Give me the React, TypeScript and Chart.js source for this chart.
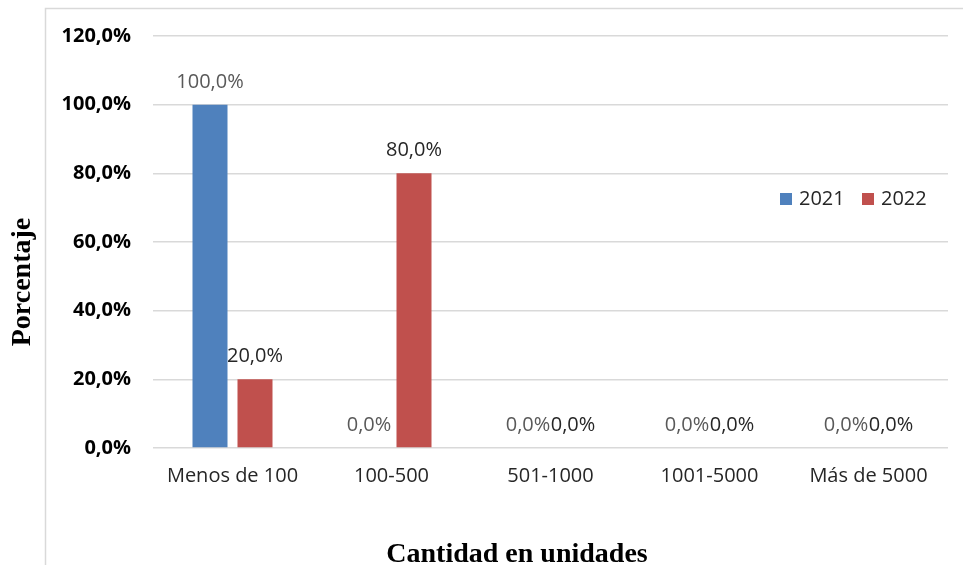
import React, { useEffect, useRef } from "react";
import { Chart, registerables } from "chart.js";

Chart.register(...registerables);

const categories = ["Menos de 100", "100-500", "501-1000", "1001-5000", "Más de 5000"];
const series2021 = [100, 0, 0, 0, 0];
const series2022 = [20, 80, 0, 0, 0];
const seriesNames = ["2021", "2022"];
const seriesColors = ["#4F81BD", "#C0504D"];
const labelColors = ["#595959", "#262626"];
const yTicks = [0, 20, 40, 60, 80, 100, 120];
const xTitle = "Cantidad en unidades";
const yTitle = "Porcentaje";

const fmt = (v: number) => v.toFixed(1).replace(".", ",") + "%";

const W = 963;
const H = 565;

const decorPlugin = {
  id: "decor",
  beforeDraw(chart: any) {
    const ctx = chart.ctx;
    ctx.save();
    ctx.fillStyle = "#ffffff";
    ctx.fillRect(0, 0, W, H);
    ctx.strokeStyle = "#d9d9d9";
    ctx.lineWidth = 1.5;
    ctx.beginPath();
    ctx.moveTo(45.5, H);
    ctx.lineTo(45.5, 8.5);
    ctx.lineTo(W, 8.5);
    ctx.stroke();
    ctx.restore();
  },
  afterDraw(chart: any) {
    const ctx = chart.ctx;
    ctx.save();
    // data labels
    ctx.font = "20px 'Open Sans'";
    ctx.textAlign = "center";
    ctx.textBaseline = "alphabetic";
    chart.data.datasets.forEach((ds: any, di: number) => {
      const meta = chart.getDatasetMeta(di);
      ctx.fillStyle = labelColors[di];
      meta.data.forEach((bar: any, i: number) => {
        ctx.fillText(fmt(ds.data[i]), bar.x, bar.y - 17);
      });
    });
    // legend
    const legendX = [780, 862];
    ctx.textAlign = "left";
    seriesNames.forEach((name, i) => {
      ctx.fillStyle = seriesColors[i];
      ctx.fillRect(legendX[i], 193, 12, 12);
      ctx.fillStyle = "#262626";
      ctx.font = "20px 'Open Sans'";
      ctx.fillText(name, legendX[i] + 19, 205);
    });
    // axis titles
    ctx.fillStyle = "#000";
    ctx.font = "bold 28px 'Liberation Serif'";
    ctx.textAlign = "center";
    ctx.fillText(xTitle, 517, 562);
    ctx.translate(30, 282);
    ctx.rotate(-Math.PI / 2);
    ctx.fillText(yTitle, 0, 0);
    ctx.restore();
  },
};

export default function App() {
  const ref = useRef<HTMLCanvasElement>(null);
  useEffect(() => {
    document.body.style.margin = "0";
    const chart = new Chart(ref.current!, {
      type: "bar",
      data: {
        labels: categories,
        datasets: [
          { label: seriesNames[0], data: series2021, backgroundColor: seriesColors[0] },
          { label: seriesNames[1], data: series2022, backgroundColor: seriesColors[1] },
        ],
      },
      options: {
        animation: false,
        responsive: false,
        devicePixelRatio: 1,
        layout: { padding: { left: 0, right: 15, top: 36, bottom: 0 } },
        datasets: { bar: { categoryPercentage: 0.566, barPercentage: 0.778 } },
        plugins: { legend: { display: false }, tooltip: { enabled: false } },
        scales: {
          x: {
            grid: { display: false, drawTicks: false },
            border: { display: false },
            ticks: { color: "#262626", font: { family: "'Open Sans'", size: 20 }, padding: 16, maxRotation: 0 },
            afterFit: (s: any) => { s.height = 117; },
          },
          y: {
            min: 0,
            max: 120,
            afterBuildTicks: (s: any) => { s.ticks = yTicks.map((v) => ({ value: v })); },
            grid: { color: "#d9d9d9", lineWidth: 1.5, drawTicks: false },
            border: { display: false },
            ticks: {
              color: "#000",
              font: { family: "'Open Sans'", size: 20, weight: "bold" },
              padding: 22,
              callback: (v: any) => fmt(Number(v)),
            },
            afterFit: (s: any) => { s.width = 153; },
          },
        },
      },
      plugins: [decorPlugin],
    });
    return () => chart.destroy();
  }, []);
  return <canvas ref={ref} width={W} height={H} style={{ display: "block", width: W, height: H }} />;
}
